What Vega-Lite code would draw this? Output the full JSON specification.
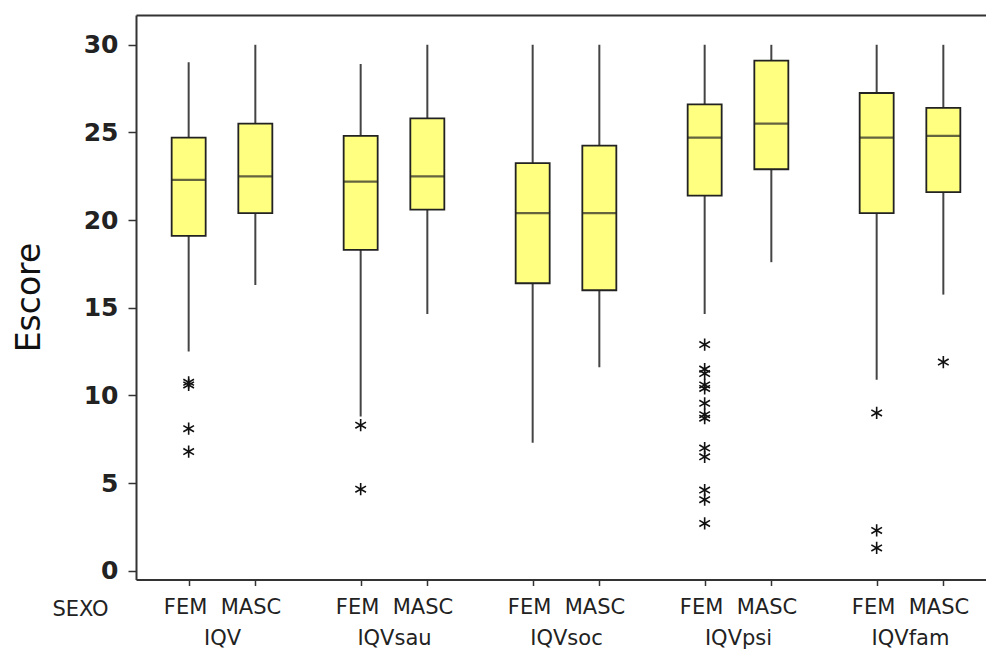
{
  "$schema": "https://vega.github.io/schema/vega-lite/v6.json",
  "autosize": {"type": "none"},
  "padding": {"left": 136, "top": 15, "right": 0, "bottom": 71.5},
  "width": 850,
  "height": 564.5,
  "background": "white",
  "config": {
    "view": {"stroke": null},
    "font": "DejaVu Sans",
    "axisY": {"grid": false,
              "domainColor": "#333", "domainWidth": 2, "tickColor": "#333", "tickWidth": 1.5, "tickSize": 8,
              "labelPadding": 10, "labelFont": "DejaVu Sans", "labelFontWeight": "bold", "labelFontSize": 25, "labelColor": "#222",
              "titleFont": "DejaVu Sans", "titleFontSize": 33, "titleFontWeight": "normal", "titleColor": "#111",
              "titleAngle": -90, "titleX": -97, "titleY": 282, "titleAlign": "center", "titleBaseline": "alphabetic"}
  },
  "datasets": {
    "stats": [
      {"var": "IQV", "sexo": "FEM", "lo": 12.5, "q1": 19.1, "med": 22.3, "q3": 24.7, "hi": 29.0},
      {"var": "IQV", "sexo": "MASC", "lo": 16.3, "q1": 20.4, "med": 22.5, "q3": 25.5, "hi": 30.0},
      {"var": "IQVsau", "sexo": "FEM", "lo": 8.8, "q1": 18.3, "med": 22.2, "q3": 24.8, "hi": 28.9},
      {"var": "IQVsau", "sexo": "MASC", "lo": 14.65, "q1": 20.6, "med": 22.5, "q3": 25.8, "hi": 30.0},
      {"var": "IQVsoc", "sexo": "FEM", "lo": 7.3, "q1": 16.4, "med": 20.4, "q3": 23.25, "hi": 30.0},
      {"var": "IQVsoc", "sexo": "MASC", "lo": 11.6, "q1": 16.0, "med": 20.4, "q3": 24.25, "hi": 30.0},
      {"var": "IQVpsi", "sexo": "FEM", "lo": 14.65, "q1": 21.4, "med": 24.7, "q3": 26.6, "hi": 30.0},
      {"var": "IQVpsi", "sexo": "MASC", "lo": 17.6, "q1": 22.9, "med": 25.5, "q3": 29.1, "hi": 30.0},
      {"var": "IQVfam", "sexo": "FEM", "lo": 10.9, "q1": 20.4, "med": 24.7, "q3": 27.25, "hi": 30.0},
      {"var": "IQVfam", "sexo": "MASC", "lo": 15.75, "q1": 21.6, "med": 24.8, "q3": 26.4, "hi": 30.0}
    ],
    "outliers": [
      {"var": "IQV", "sexo": "FEM", "valor": 10.75},
      {"var": "IQV", "sexo": "FEM", "valor": 10.6},
      {"var": "IQV", "sexo": "FEM", "valor": 8.1},
      {"var": "IQV", "sexo": "FEM", "valor": 6.8},
      {"var": "IQVsau", "sexo": "FEM", "valor": 8.3},
      {"var": "IQVsau", "sexo": "FEM", "valor": 4.65},
      {"var": "IQVpsi", "sexo": "FEM", "valor": 12.9},
      {"var": "IQVpsi", "sexo": "FEM", "valor": 11.5},
      {"var": "IQVpsi", "sexo": "FEM", "valor": 11.25},
      {"var": "IQVpsi", "sexo": "FEM", "valor": 10.6},
      {"var": "IQVpsi", "sexo": "FEM", "valor": 10.4},
      {"var": "IQVpsi", "sexo": "FEM", "valor": 9.55},
      {"var": "IQVpsi", "sexo": "FEM", "valor": 8.9},
      {"var": "IQVpsi", "sexo": "FEM", "valor": 8.7},
      {"var": "IQVpsi", "sexo": "FEM", "valor": 7.0},
      {"var": "IQVpsi", "sexo": "FEM", "valor": 6.5},
      {"var": "IQVpsi", "sexo": "FEM", "valor": 4.6},
      {"var": "IQVpsi", "sexo": "FEM", "valor": 4.05},
      {"var": "IQVpsi", "sexo": "FEM", "valor": 2.7},
      {"var": "IQVfam", "sexo": "FEM", "valor": 9.0},
      {"var": "IQVfam", "sexo": "FEM", "valor": 2.3},
      {"var": "IQVfam", "sexo": "FEM", "valor": 1.3},
      {"var": "IQVfam", "sexo": "MASC", "valor": 11.9}
    ]
  },
  "resolve": {"axis": {"x": "independent"}},
  "layer": [
    {
      "data": {"name": "stats"},
      "mark": {"type": "rule", "color": "#444", "strokeWidth": 2},
      "encoding": {
        "x": {"field": "var", "type": "nominal", "sort": ["IQV", "IQVsau", "IQVsoc", "IQVpsi", "IQVfam"],
              "scale": {"paddingInner": 0, "paddingOuter": 0, "rangeMax": 860},
              "axis": {"orient": "top", "labels": false, "ticks": false, "title": null, "domainColor": "#333", "domainWidth": 2}},
        "xOffset": {"field": "sexo", "type": "nominal", "sort": ["FEM", "MASC"], "scale": {"paddingInner": 0, "paddingOuter": 0.29}},
        "y": {"field": "lo", "type": "quantitative", "title": "Escore", "scale": {"domain": [-0.5, 31.7], "nice": false, "zero": false},
              "axis": {"values": [0, 5, 10, 15, 20, 25, 30], "title": "Escore"}},
        "y2": {"field": "hi"}
      }
    },
    {
      "data": {"name": "stats"},
      "mark": {"type": "bar", "size": 34, "fill": "#FFFF80", "stroke": "#222", "strokeWidth": 1.8},
      "encoding": {
        "x": {"field": "var", "type": "nominal", "sort": ["IQV", "IQVsau", "IQVsoc", "IQVpsi", "IQVfam"],
              "axis": {"orient": "bottom", "title": "SEXO", "domainColor": "#333", "domainWidth": 2,
                       "tickColor": "#333", "tickWidth": 1.5, "tickSize": 6, "tickOffset": -33.33, "labelOffset": 33.33,
                       "labelExpr": "['FEM\u00a0\u00a0MASC', datum.label]", "labelAngle": 0, "labelFont": "DejaVu Sans", "labelFontSize": 21,
                       "labelColor": "#222", "labelPadding": 11, "labelLineHeight": 31, "labelBaseline": "top", "labelAlign": "center",
                       "labelBound": false, "labelOverlap": false,
                       "titleFont": "DejaVu Sans", "titleFontSize": 21, "titleFontWeight": "normal", "titleColor": "#222",
                       "titleX": -56, "titleY": 35.5, "titleAlign": "center", "titleBaseline": "alphabetic"}},
        "xOffset": {"field": "sexo", "type": "nominal", "sort": ["FEM", "MASC"]},
        "y": {"field": "q1", "type": "quantitative", "title": "Escore"},
        "y2": {"field": "q3"}
      }
    },
    {
      "data": {"name": "stats"},
      "mark": {"type": "tick", "size": 34, "thickness": 2.2, "color": "#222"},
      "encoding": {
        "x": {"field": "var", "type": "nominal", "sort": ["IQV", "IQVsau", "IQVsoc", "IQVpsi", "IQVfam"],
              "axis": {"orient": "bottom", "title": null, "labels": false, "domain": false,
                       "tickColor": "#333", "tickWidth": 1.5, "tickSize": 6, "tickOffset": 33.33}},
        "xOffset": {"field": "sexo", "type": "nominal", "sort": ["FEM", "MASC"]},
        "y": {"field": "med", "type": "quantitative", "title": "Escore"}
      }
    },
    {
      "data": {"name": "outliers"},
      "mark": {"type": "point", "shape": "M0,-1L0,1M-0.87,-0.5L0.87,0.5M-0.87,0.5L0.87,-0.5", "size": 150, "filled": false, "stroke": "#111", "strokeWidth": 1.6, "opacity": 1},
      "encoding": {
        "x": {"field": "var", "type": "nominal", "sort": ["IQV", "IQVsau", "IQVsoc", "IQVpsi", "IQVfam"], "axis": null},
        "xOffset": {"field": "sexo", "type": "nominal", "sort": ["FEM", "MASC"]},
        "y": {"field": "valor", "type": "quantitative", "title": "Escore"}
      }
    }
  ]
}
